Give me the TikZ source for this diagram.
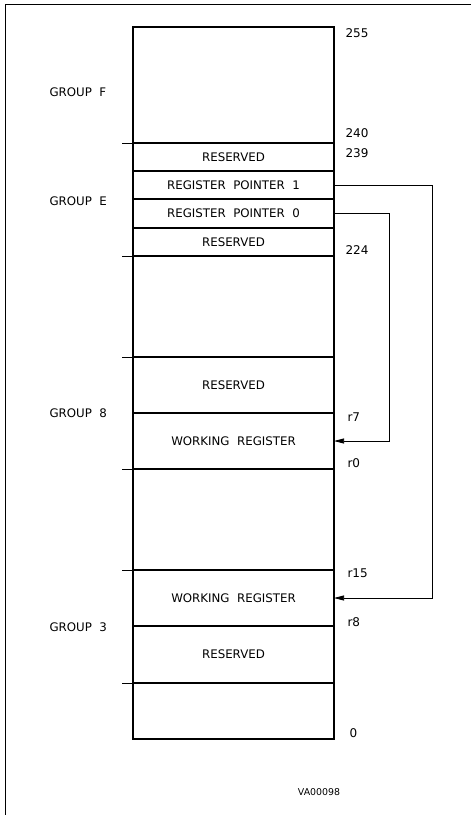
\documentclass[tikz,border=0pt]{standalone}
\usepackage{fontspec}
\setmainfont{DejaVu Sans}
\usetikzlibrary{positioning,arrows.meta}

\begin{document}
\begin{tikzpicture}[x=1pt, y=-1pt,
    cell/.style={draw, line width=1.2pt, minimum width=201pt, inner sep=0pt, outer sep=0pt, font=\fontsize{11.8}{13}\selectfont},
    addr/.style={anchor=west, font=\fontsize{12}{13}\selectfont},
    grp/.style={anchor=west, font=\fontsize{11.8}{13}\selectfont},
    ptr/.style={line width=0.75pt, -{Triangle[length=10pt, width=5pt]}}]
    \useasboundingbox (0,0) rectangle (471,815);
    % frame
    \draw[line width=0.9pt] (5,815) -- (5,4) -- (471,4);

    % register file column
    \node[cell, minimum height=116pt, anchor=north] (grpF) at (233.5,27) {};
    \node[cell, minimum height=28pt, below=0pt of grpF] (rsvA) {RESERVED};
    \node[cell, minimum height=28pt, below=0pt of rsvA] (rptr1) {REGISTER\ \ POINTER\ \ 1};
    \node[cell, minimum height=29pt, below=0pt of rptr1] (rptr0) {REGISTER\ \ POINTER\ \ 0};
    \node[cell, minimum height=28pt, below=0pt of rptr0] (rsvB) {RESERVED};
    \node[cell, minimum height=101pt, below=0pt of rsvB] (gapE) {};
    \node[cell, minimum height=56pt, below=0pt of gapE] (rsv8) {RESERVED};
    \node[cell, minimum height=56pt, below=0pt of rsv8] (wreg8) {WORKING\ \ REGISTER};
    \node[cell, minimum height=101pt, below=0pt of wreg8] (gap8) {};
    \node[cell, minimum height=56pt, below=0pt of gap8] (wreg3) {WORKING\ \ REGISTER};
    \node[cell, minimum height=57pt, below=0pt of wreg3] (rsv3) {RESERVED};
    \node[cell, minimum height=56pt, below=0pt of rsv3] (gap3) {};

    % group boundaries
    \foreach \c in {rsvA, gapE, rsv8, gap8, wreg3, gap3}
        \draw[line width=0.9pt] (\c.north west) -- ++(-11,0);

    % group names
    \node[grp] (nF) at (46,92) {GROUP\ \ F};
    \node[grp] (nE) at (46,201) {GROUP\ \ E};
    \node[grp] (n8) at (46,413) {GROUP\ \ 8};
    \node[grp] (n3) at (46,627) {GROUP\ \ 3};

    % addresses
    \node[addr] (a255) at (342,33) {255};
    \node[addr] (a240) at (342,133) {240};
    \node[addr] (a239) at (342,153) {239};
    \node[addr] (a224) at (342,250) {224};
    \node[addr] (r7) at (344,417) {r7};
    \node[addr] (r0) at (344,463) {r0};
    \node[addr] (r15) at (344,573) {r15};
    \node[addr] (r8) at (344,622) {r8};
    \node[addr] (a0) at (346,733) {0};

    % pointers
    \draw[ptr] (rptr1.east) -- ++(98,0) |- (wreg3.east);
    \draw[ptr] (rptr0.east) -- ++(55,0) |- (wreg8.east);

    \node[font=\fontsize{9.4}{11}\selectfont] (fig) at (319,792) {VA00098};
\end{tikzpicture}
\end{document}
